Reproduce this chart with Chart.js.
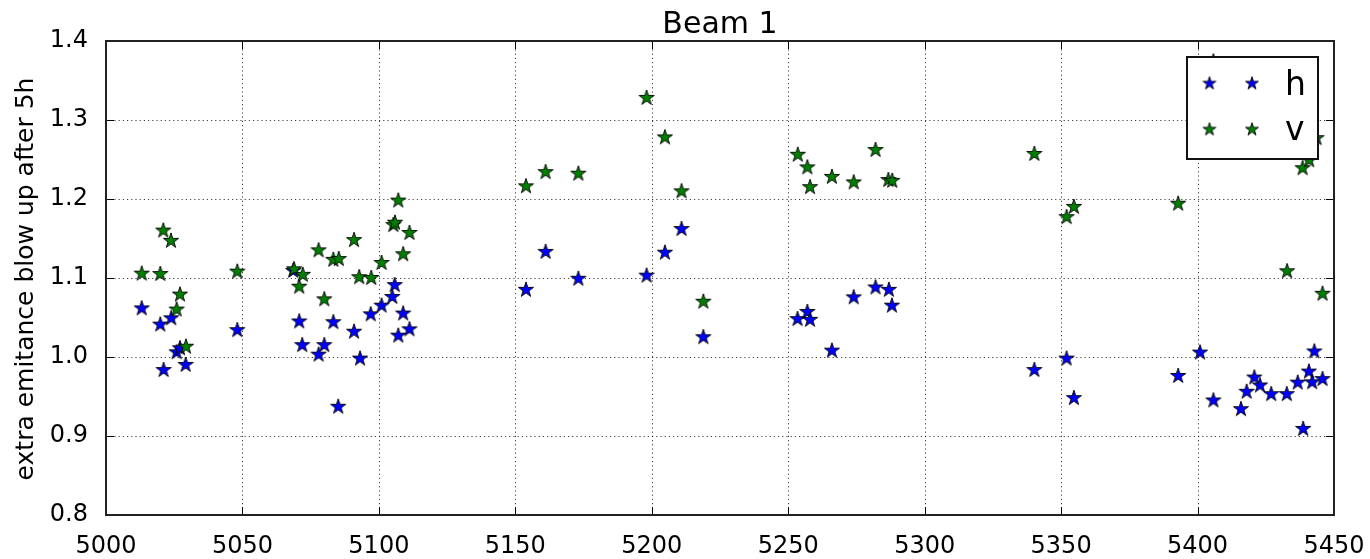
<!DOCTYPE html>
<html>
<head>
<meta charset="utf-8">
<script src="https://cdn.jsdelivr.net/npm/chart.js@4.4.1/dist/chart.umd.min.js"></script>
<style>
  html, body { margin: 0; padding: 0; background: #fff; }
  canvas { display: block; }
</style>
</head>
<body>
<canvas id="grafico" width="1370" height="559"></canvas>
<script>
// fill number vs extra emittance blow-up after 5h, beam 1
const fillH = [5013.1, 5019.9, 5021.1, 5023.9, 5025.9, 5027.1, 5029.2, 5048.1, 5068.6, 5070.8,
  5071.9, 5077.9, 5080.0, 5083.3, 5085.1, 5090.9, 5093.1, 5097.0, 5101.0, 5104.9,
  5105.8, 5107.1, 5108.9, 5111.2, 5153.9, 5161.1, 5173.1, 5198.1, 5204.8, 5210.9,
  5218.9, 5253.4, 5257.0, 5258.0, 5266.0, 5274.0, 5282.0, 5286.9, 5288.0, 5340.2,
  5352.0, 5354.7, 5392.9, 5400.9, 5405.8, 5415.9, 5418.0, 5420.8, 5422.9, 5427.0,
  5432.7, 5436.7, 5438.7, 5440.8, 5442.0, 5442.8, 5445.8];
const blowH = [1.0615, 1.041, 0.9835, 1.049, 1.006, 1.011, 0.990, 1.034, 1.109, 1.045,
  1.015, 1.003, 1.015, 1.044, 0.937, 1.032, 0.998, 1.054, 1.065, 1.076,
  1.091, 1.027, 1.055, 1.035, 1.085, 1.133, 1.099, 1.103, 1.132, 1.162,
  1.025, 1.048, 1.057, 1.047, 1.008, 1.0755, 1.088, 1.085, 1.065, 0.9835,
  0.998, 0.948, 0.976, 1.0056, 0.945, 0.934, 0.956, 0.974, 0.964, 0.953,
  0.953, 0.9675, 0.909, 0.9815, 0.968, 1.007, 0.972];

const fillV = [5013.1, 5019.9, 5021.0, 5023.8, 5025.9, 5027.1, 5029.3, 5048.1, 5068.9, 5070.8,
  5072.1, 5077.9, 5080.0, 5083.3, 5085.3, 5090.9, 5092.8, 5097.2, 5101.0, 5105.3,
  5105.9, 5107.1, 5108.9, 5111.2, 5153.9, 5161.1, 5173.1, 5198.1, 5204.8, 5210.9,
  5218.9, 5253.5, 5257.0, 5258.0, 5266.0, 5274.0, 5282.0, 5286.7, 5288.1, 5340.2,
  5352.0, 5354.7, 5392.9, 5405.8, 5432.8, 5438.5, 5440.9, 5443.6, 5445.8];
const blowV = [1.1055, 1.105, 1.160, 1.147, 1.060, 1.079, 1.013, 1.108, 1.111, 1.089,
  1.104, 1.135, 1.073, 1.123, 1.124, 1.148, 1.101, 1.100, 1.119, 1.167,
  1.170, 1.198, 1.130, 1.157, 1.216, 1.234, 1.232, 1.328, 1.278, 1.2097,
  1.070, 1.256, 1.240, 1.215, 1.228, 1.221, 1.262, 1.224, 1.223, 1.257,
  1.177, 1.190, 1.194, 1.374, 1.1085, 1.239, 1.249, 1.277, 1.080];

const xTicks = [5000, 5050, 5100, 5150, 5200, 5250, 5300, 5350, 5400, 5450];
const yTicks = [0.8, 0.9, 1.0, 1.1, 1.2, 1.3, 1.4];

const FUENTE = 'DejaVu Sans, sans-serif';

// estrella rellena con borde negro, como el marcador '*'
function hacerEstrella(color, R) {
  const c = document.createElement('canvas');
  const s = Math.ceil(2 * R + 4);
  c.width = s; c.height = s;
  const g = c.getContext('2d');
  const cx = s / 2, cy = s / 2, r = R * 0.381966;
  g.beginPath();
  for (let i = 0; i < 10; i++) {
    const ang = -Math.PI / 2 + i * Math.PI / 5;
    const rad = i % 2 === 0 ? R : r;
    const px = cx + rad * Math.cos(ang), py = cy + rad * Math.sin(ang);
    if (i === 0) g.moveTo(px, py); else g.lineTo(px, py);
  }
  g.closePath();
  g.fillStyle = color;
  g.fill();
  g.lineWidth = 0.9;
  g.strokeStyle = '#000';
  g.stroke();
  return c;
}

const estrellaAzul = hacerEstrella('#0000ff', 8);
const estrellaVerde = hacerEstrella('#008000', 8);
const leyendaAzul = hacerEstrella('#0000ff', 6.8);
const leyendaVerde = hacerEstrella('#008000', 6.8);

const puntosH = fillH.map((x, i) => ({ x: x, y: blowH[i] }));
const puntosV = fillV.map((x, i) => ({ x: x, y: blowV[i] }));

// rejilla punteada detras de los puntos
const rejilla = {
  id: 'rejilla',
  beforeDatasetsDraw(chart) {
    const { ctx, chartArea: a, scales: { x, y } } = chart;
    ctx.save();
    ctx.strokeStyle = 'rgba(0,0,0,0.75)';
    ctx.lineWidth = 1;
    ctx.setLineDash([1.2, 3]);
    xTicks.forEach(v => {
      const px = Math.round(x.getPixelForValue(v)) + 0.5;
      ctx.beginPath(); ctx.moveTo(px, a.top); ctx.lineTo(px, a.bottom); ctx.stroke();
    });
    yTicks.forEach(v => {
      const py = Math.round(y.getPixelForValue(v)) + 0.5;
      ctx.beginPath(); ctx.moveTo(a.left, py); ctx.lineTo(a.right, py); ctx.stroke();
    });
    ctx.restore();
  }
};

// marco, marcas hacia dentro, titulos y leyenda
const marco = {
  id: 'marco',
  afterDraw(chart) {
    const { ctx, chartArea: a, scales: { x, y } } = chart;
    ctx.save();
    ctx.strokeStyle = '#000';
    ctx.lineWidth = 1;
    const L = 8;
    xTicks.forEach(v => {
      const px = Math.round(x.getPixelForValue(v)) + 0.5;
      ctx.beginPath();
      ctx.moveTo(px, a.bottom); ctx.lineTo(px, a.bottom - L);
      ctx.moveTo(px, a.top); ctx.lineTo(px, a.top + L);
      ctx.stroke();
    });
    yTicks.forEach(v => {
      const py = Math.round(y.getPixelForValue(v)) + 0.5;
      ctx.beginPath();
      ctx.moveTo(a.left, py); ctx.lineTo(a.left + L, py);
      ctx.moveTo(a.right, py); ctx.lineTo(a.right - L, py);
      ctx.stroke();
    });

    // leyenda
    const lx = 1187, ly = 57, lw = 131, lh = 102;
    ctx.fillStyle = '#fff';
    ctx.fillRect(lx, ly, lw, lh);
    ctx.lineWidth = 2;
    ctx.strokeStyle = '#111';
    ctx.strokeRect(lx, ly, lw, lh);
    [[leyendaAzul, 83.5, 'h', 94.5], [leyendaVerde, 129.5, 'v', 140]].forEach(([img, cy, txt, base]) => {
      ctx.drawImage(img, 1209.5 - img.width / 2, cy - img.height / 2);
      ctx.drawImage(img, 1252 - img.width / 2, cy - img.height / 2);
      ctx.fillStyle = '#000';
      ctx.font = '33px ' + FUENTE;
      ctx.textAlign = 'left';
      ctx.textBaseline = 'alphabetic';
      ctx.fillText(txt, 1285, base);
    });

    // marco del area
    ctx.lineWidth = 2;
    ctx.strokeStyle = '#222';
    ctx.strokeRect(a.left, a.top, a.right - a.left, a.bottom - a.top);

    // titulo
    ctx.fillStyle = '#000';
    ctx.font = '30px ' + FUENTE;
    ctx.textAlign = 'center';
    ctx.textBaseline = 'alphabetic';
    ctx.fillText('Beam 1', (a.left + a.right) / 2, 33);

    // etiqueta del eje y
    ctx.translate(33, (a.top + a.bottom) / 2 + 1);
    ctx.rotate(-Math.PI / 2);
    ctx.font = '25px ' + FUENTE;
    ctx.fillText('extra emitance blow up after 5h', 0, 0);
    ctx.restore();
  }
};

new Chart(document.getElementById('grafico').getContext('2d'), {
  type: 'scatter',
  data: {
    datasets: [
      { label: 'h', data: puntosH, pointStyle: estrellaAzul, order: 1 },
      { label: 'v', data: puntosV, pointStyle: estrellaVerde, order: 0 }
    ]
  },
  options: {
    responsive: false,
    animation: false,
    devicePixelRatio: 1,
    layout: { padding: { top: 41, right: 36, left: 0, bottom: 0 } },
    plugins: { legend: { display: false }, tooltip: { enabled: false }, title: { display: false } },
    scales: {
      x: {
        type: 'linear',
        min: 5000, max: 5450,
        afterBuildTicks: s => { s.ticks = xTicks.map(v => ({ value: v })); },
        afterFit: s => { s.height = 44; s.paddingLeft = 0; s.paddingRight = 0; },
        grid: { display: false, drawTicks: false },
        border: { display: false },
        ticks: { color: '#000', font: { family: FUENTE, size: 24 }, padding: 17, maxRotation: 0, autoSkip: false,
          callback: v => String(v) }
      },
      y: {
        type: 'linear',
        min: 0.8, max: 1.4,
        afterBuildTicks: s => { s.ticks = yTicks.map(v => ({ value: v })); },
        afterFit: s => { s.width = 106; s.paddingTop = 0; s.paddingBottom = 0; },
        grid: { display: false, drawTicks: false },
        border: { display: false },
        ticks: { color: '#000', font: { family: FUENTE, size: 24 }, padding: 18,
          callback: v => v.toFixed(1) }
      }
    }
  },
  plugins: [rejilla, marco]
});
</script>
</body>
</html>
